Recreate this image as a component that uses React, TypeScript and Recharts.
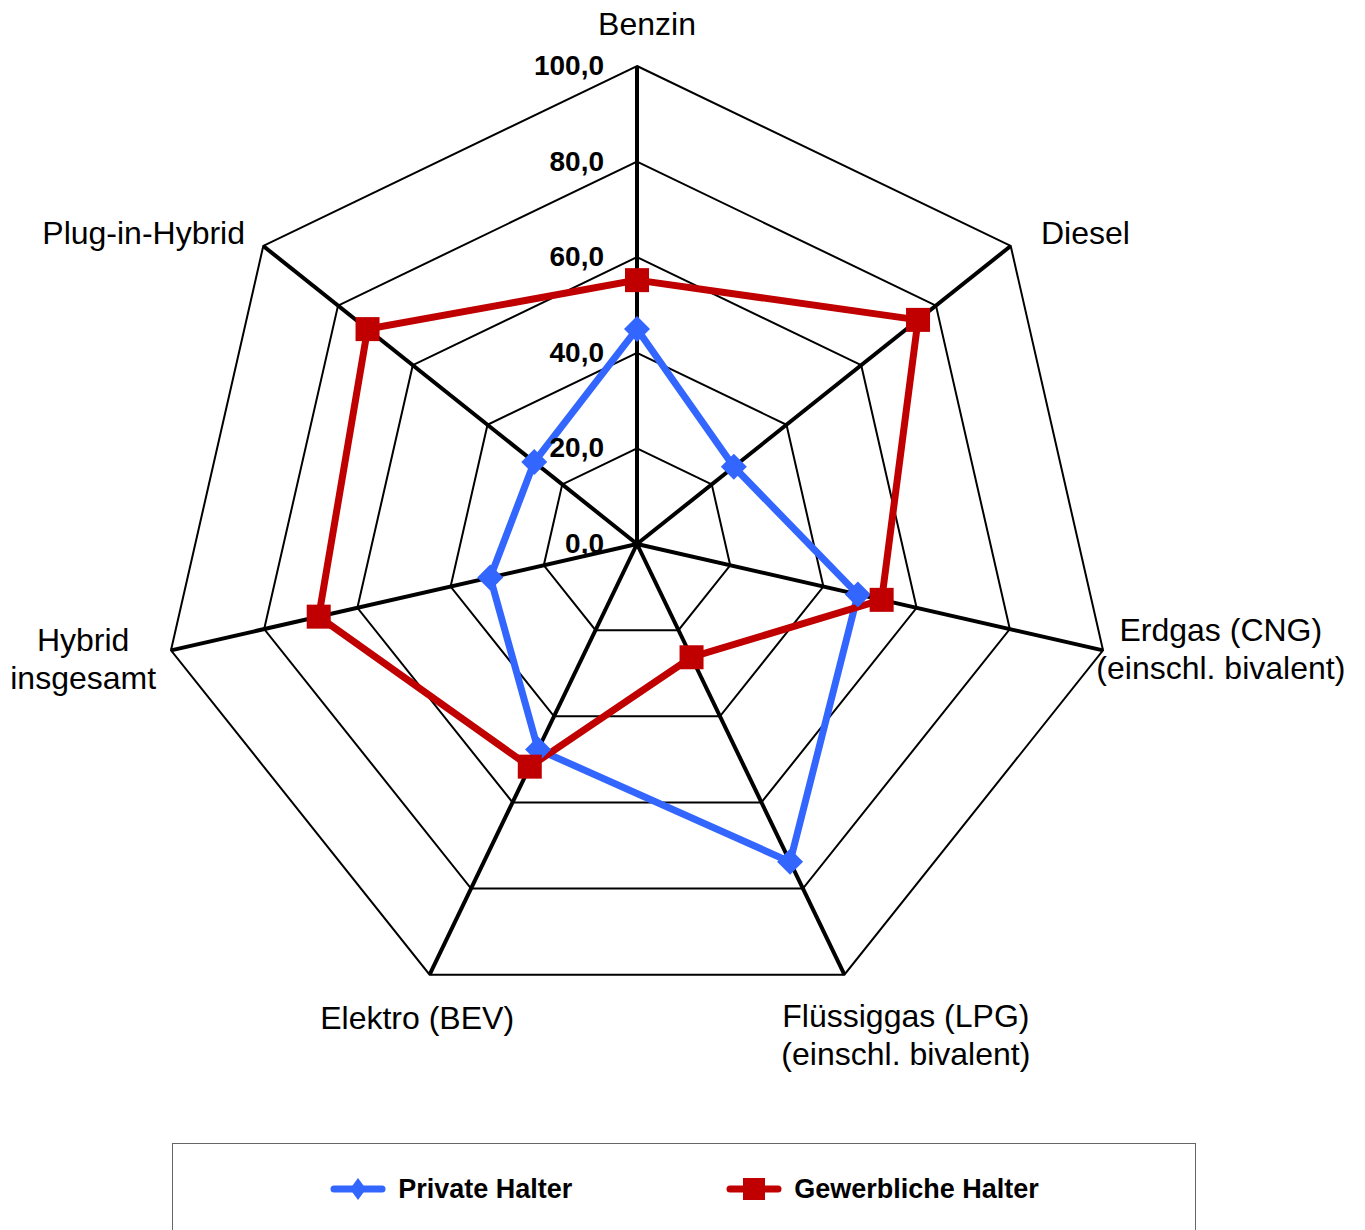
import { RadarChart, Radar, PolarGrid, PolarAngleAxis, PolarRadiusAxis, Legend } from 'recharts';

// Kategorien (Kraftstoffarten), Zeilenumbruch mit \n
const categories = [
  'Benzin',
  'Diesel',
  'Erdgas (CNG)\n(einschl. bivalent)',
  'Flüssiggas (LPG)\n(einschl. bivalent)',
  'Elektro (BEV)',
  'Hybrid\ninsgesamt',
  'Plug-in-Hybrid',
];
const privateHalter = [45.0, 25.9, 47.4, 73.8, 47.7, 31.5, 27.5];
const gewerblicheHalter = [55.2, 75.2, 52.5, 26.3, 51.7, 68.3, 72.1];
const seriesNames = ['Private Halter', 'Gewerbliche Halter'];
const radiusDomain = [0, 100];

const BLUE = '#3366FF';
const RED = '#C00000';
const FONT = '"Liberation Sans", Arial, sans-serif';

const chartData = categories.map((name, i) => ({
  name,
  privat: privateHalter[i],
  gewerblich: gewerblicheHalter[i],
}));

// label placement relative to the tick anchor point
const labelLayout: { dx: number; dy: number; anchor: 'start' | 'middle' | 'end' }[] = [
  { dx: 10, dy: -23, anchor: 'middle' },
  { dx: 24, dy: 3, anchor: 'start' },
  { dx: 110, dy: -11, anchor: 'middle' },
  { dx: 58, dy: 45, anchor: 'middle' },
  { dx: -9, dy: 47, anchor: 'middle' },
  { dx: -80, dy: -1, anchor: 'middle' },
  { dx: -12, dy: 3, anchor: 'end' },
];

const AngleTick = (props: any) => {
  const { x, y, payload, index } = props;
  const lay = labelLayout[index] || { dx: 0, dy: 0, anchor: 'middle' };
  const lines = String(payload.value).split('\n');
  const tx = x + lay.dx;
  return (
    <text x={tx} y={y + lay.dy} textAnchor={lay.anchor} fontSize={32} fill="#000" fontFamily={FONT}>
      {lines.map((l, i) => (
        <tspan key={i} x={tx} dy={i === 0 ? 0 : 38}>
          {l}
        </tspan>
      ))}
    </text>
  );
};

const RadiusTick = (props: any) => {
  const { x, y, payload } = props;
  return (
    <text x={x - 33} y={y + 9} textAnchor="end" fontSize={28} fontWeight="bold" fill="#000" fontFamily={FONT}>
      {Number(payload.value).toFixed(1).replace('.', ',')}
    </text>
  );
};

const DiamondDot = (p: any) => {
  const s = 13;
  return (
    <polygon
      key={`pd-${p.index}`}
      points={`${p.cx},${p.cy - s} ${p.cx + s},${p.cy} ${p.cx},${p.cy + s} ${p.cx - s},${p.cy}`}
      fill={BLUE}
    />
  );
};

const SquareDot = (p: any) => {
  const s = 12;
  return <rect key={`gd-${p.index}`} x={p.cx - s} y={p.cy - s} width={s * 2} height={s * 2} fill={RED} />;
};

const LegendContent = () => (
  <div
    style={{
      display: 'flex',
      justifyContent: 'center',
      alignItems: 'center',
      height: '100%',
      gap: 153,
      fontFamily: FONT,
      fontWeight: 'bold',
      fontSize: 27,
      color: '#000',
    }}
  >
    <div style={{ display: 'flex', alignItems: 'center' }}>
      <svg width={58} height={30}>
        <line x1={5} y1={15} x2={53} y2={15} stroke={BLUE} strokeWidth={7} strokeLinecap="round" />
        <polygon points="29,4 37,15 29,26 21,15" fill={BLUE} />
      </svg>
      <span style={{ marginLeft: 11 }}>{seriesNames[0]}</span>
    </div>
    <div style={{ display: 'flex', alignItems: 'center' }}>
      <svg width={58} height={30}>
        <line x1={5} y1={15} x2={53} y2={15} stroke={RED} strokeWidth={7} strokeLinecap="round" />
        <rect x={18} y={4} width={22} height={22} fill={RED} />
      </svg>
      <span style={{ marginLeft: 11 }}>{seriesNames[1]}</span>
    </div>
  </div>
);

export default function App() {
  return (
    <div style={{ position: 'absolute', left: 0, top: 0, background: '#fff' }}>
      <RadarChart
        width={1365}
        height={1230}
        data={chartData}
        cx={637}
        cy={544}
        outerRadius={478}
        margin={{ top: 0, right: 0, bottom: 0, left: 0 }}
      >
        <PolarGrid gridType="polygon" radialLines={false} stroke="#000" strokeWidth={2} />
        <PolarGrid gridType="polygon" radialLines={true} polarRadius={[]} stroke="#000" strokeWidth={4} />
        <PolarAngleAxis dataKey="name" tick={AngleTick} tickLine={false} axisLine={false} />
        <PolarRadiusAxis
          angle={90}
          domain={radiusDomain}
          tickCount={6}
          tick={RadiusTick}
          axisLine={false}
          tickLine={false}
        />
        <Radar
          name={seriesNames[0]}
          dataKey="privat"
          stroke={BLUE}
          strokeWidth={7}
          fill="none"
          fillOpacity={0}
          dot={DiamondDot}
          isAnimationActive={false}
        />
        <Radar
          name={seriesNames[1]}
          dataKey="gewerblich"
          stroke={RED}
          strokeWidth={7}
          fill="none"
          fillOpacity={0}
          dot={SquareDot}
          isAnimationActive={false}
        />
        <Legend
          content={LegendContent}
          wrapperStyle={{
            position: 'absolute',
            left: 172,
            top: 1143,
            width: 1022,
            height: 90,
            border: '1.5px solid #666',
            boxSizing: 'content-box',
            bottom: 'auto',
            right: 'auto',
          }}
        />
      </RadarChart>
    </div>
  );
}
